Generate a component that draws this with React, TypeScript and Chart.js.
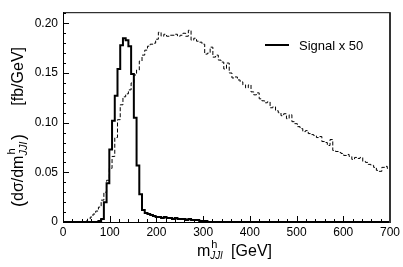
import React, { useEffect, useRef } from "react";
import { Chart, registerables } from "chart.js";

Chart.register(...registerables);

// ---------- data ----------
const X_MIN = 0;
const X_MAX = 700;
const BIN_COUNT = 120;
const xTickValues = [0, 100, 200, 300, 400, 500, 600, 700];
const yTickValues = [0, 0.05, 0.1, 0.15, 0.2];
const yTickLabels = ["0", "0.05", "0.10", "0.15", "0.20"];
const legendLabel = "Signal x 50";

// signal x 50, 120 bins of 700/120 GeV
const signalValues = [
  0, 0, 0, 0, 0, 0, 0, 0, 0, 0,
  0, 0, 0, 0.001, 0.003, 0.02, 0.039, 0.073, 0.102, 0.127,
  0.154, 0.178, 0.185, 0.183, 0.177, 0.149, 0.105, 0.057, 0.028, 0.012,
  0.009, 0.008, 0.007, 0.006, 0.005, 0.005, 0.004, 0.005, 0.004, 0.004,
  0.003, 0.004, 0.003, 0.003, 0.003, 0.002, 0.003, 0.002, 0.002, 0.002,
  0.001, 0.001, 0.001, 0, 0, 0, 0, 0, 0, 0,
  0, 0, 0, 0, 0, 0, 0, 0, 0, 0,
  0, 0, 0, 0, 0, 0, 0, 0, 0, 0,
  0, 0, 0, 0, 0, 0, 0, 0, 0, 0,
  0, 0, 0, 0, 0, 0, 0, 0, 0, 0,
  0, 0, 0, 0, 0, 0, 0, 0, 0, 0,
  0, 0, 0, 0, 0, 0, 0, 0, 0, 0,
];

// background (dashed), same binning
const backgroundValues = [
  0, 0, 0, 0, 0, 0, 0, 0.0005, 0.001, 0.003,
  0.005, 0.008, 0.011, 0.015, 0.022, 0.03, 0.042, 0.054, 0.066, 0.085,
  0.103, 0.118, 0.126, 0.129, 0.133, 0.14, 0.148, 0.153, 0.162, 0.168,
  0.173, 0.177, 0.179, 0.18, 0.184, 0.191, 0.187, 0.189, 0.187, 0.188,
  0.188, 0.189, 0.187, 0.188, 0.19, 0.187, 0.193, 0.183, 0.185, 0.182,
  0.181, 0.179, 0.169, 0.17, 0.176, 0.166, 0.168, 0.163, 0.161, 0.154,
  0.16, 0.15, 0.145, 0.146, 0.143, 0.141, 0.138, 0.135, 0.138, 0.131,
  0.128, 0.13, 0.124, 0.122, 0.12, 0.121, 0.115, 0.116, 0.112, 0.11,
  0.107, 0.109, 0.104, 0.108, 0.101, 0.099, 0.096, 0.094, 0.091, 0.092,
  0.089, 0.088, 0.087, 0.085, 0.086, 0.081, 0.08, 0.077, 0.083, 0.072,
  0.071, 0.07, 0.069, 0.067, 0.068, 0.066, 0.063, 0.065, 0.064, 0.065,
  0.061, 0.06, 0.058, 0.057, 0.055, 0.052, 0.051, 0.055, 0.056, 0.054,
];

// ---------- helpers ----------
const FONT = "'Liberation Sans', Arial, Helvetica, sans-serif";
const binWidth = (X_MAX - X_MIN) / BIN_COUNT;

function histPoints(values: number[]) {
  const pts = values.map((v, i) => ({ x: X_MIN + i * binWidth, y: v }));
  pts.push({ x: X_MAX, y: values[values.length - 1] });
  return pts;
}

function put(ctx: CanvasRenderingContext2D, text: string, font: string, x: number, y: number) {
  ctx.font = font;
  ctx.fillText(text, x, y);
  return x + ctx.measureText(text).width;
}

const decorPlugin = {
  id: "decor",
  afterDatasetsDraw(chart: any) {
    const { ctx, chartArea: a, scales } = chart;
    const xs = scales.x;
    const ys = scales.y;
    ctx.save();
    ctx.strokeStyle = "#000";
    ctx.fillStyle = "#000";
    ctx.lineWidth = 1;
    ctx.setLineDash([]);
    ctx.textBaseline = "alphabetic";
    ctx.textAlign = "left";

    // y ticks (inside): major every 0.05, minor every 0.01
    ctx.beginPath();
    for (let i = 0; i <= 21; i++) {
      const v = i * 0.01;
      const py = Math.round(ys.getPixelForValue(v)) + 0.5;
      if (py < a.top) continue;
      const len = i % 5 === 0 ? 6 : 3;
      ctx.moveTo(a.left, py);
      ctx.lineTo(a.left + len, py);
    }
    // x ticks (inside): major every 100, minor every 20
    for (let i = 0; i <= 35; i++) {
      const v = i * 20;
      const px = Math.round(xs.getPixelForValue(v)) + 0.5;
      const len = i % 5 === 0 ? 6 : 3;
      ctx.moveTo(px, a.bottom);
      ctx.lineTo(px, a.bottom - len);
    }
    ctx.stroke();

    // frame
    ctx.beginPath();
    ctx.lineWidth = 1;
    ctx.moveTo(a.left + 0.5, a.top);
    ctx.lineTo(a.left + 0.5, a.bottom + 0.5);
    ctx.lineTo(a.right, a.bottom + 0.5);
    ctx.moveTo(a.left, a.top + 0.5);
    ctx.lineTo(a.right, a.top + 0.5);
    ctx.stroke();
    ctx.beginPath();
    ctx.strokeStyle = "#333";
    ctx.lineWidth = 2;
    ctx.moveTo(a.right, a.top);
    ctx.lineTo(a.right, a.bottom + 1);
    ctx.stroke();

    // legend
    ctx.strokeStyle = "#000";
    ctx.lineWidth = 2;
    ctx.beginPath();
    ctx.moveTo(265, 45);
    ctx.lineTo(289, 45);
    ctx.stroke();
    put(ctx, legendLabel, `13px ${FONT}`, 299, 50);

    // x-axis title: m^h_{JJl}  [GeV]
    {
      const base = 256;
      const x = put(ctx, "m", `16px ${FONT}`, 197, base);
      put(ctx, "h", `11px ${FONT}`, x + 1, base - 8);
      put(ctx, "JJl", `italic 10px ${FONT}`, x, base + 3);
      ctx.textAlign = "right";
      put(ctx, "[GeV]", `16px ${FONT}`, 272, base);
      ctx.textAlign = "left";
    }

    // y-axis title (rotated)
    {
      ctx.save();
      ctx.translate(23, 207);
      ctx.rotate(-Math.PI / 2);
      let x = put(ctx, "(", `18px ${FONT}`, 0, 1);
      x = put(ctx, "d\u03c3/dm", `16px ${FONT}`, x, 0);
      put(ctx, "h", `11px ${FONT}`, x + 1, -8);
      ctx.font = `italic 11px ${FONT}`;
      const wSub = ctx.measureText("JJl").width;
      put(ctx, "JJl", `italic 11px ${FONT}`, x, 4);
      x += wSub + 2;
      put(ctx, ")", `18px ${FONT}`, x, 1);
      ctx.textAlign = "right";
      put(ctx, "[fb/GeV]", `16px ${FONT}`, 160, 0);
      ctx.restore();
    }
    ctx.restore();
  },
};

export default function App() {
  const canvasRef = useRef<HTMLCanvasElement | null>(null);

  useEffect(() => {
    const canvas = canvasRef.current;
    if (!canvas) return;
    const chart = new Chart(canvas, {
      type: "line",
      data: {
        datasets: [
          {
            label: "Background",
            data: histPoints(backgroundValues),
            stepped: "before",
            borderColor: "#000",
            borderWidth: 1,
            borderDash: [4, 2],
            pointRadius: 0,
            fill: false,
          },
          {
            label: legendLabel,
            data: histPoints(signalValues),
            stepped: "before",
            borderColor: "#000",
            borderWidth: 2,
            pointRadius: 0,
            fill: false,
          },
        ],
      },
      options: {
        responsive: false,
        animation: false,
        devicePixelRatio: 1,
        layout: { padding: { top: 5, right: 11, left: 0, bottom: 0 } },
        plugins: { legend: { display: false }, tooltip: { enabled: false } },
        scales: {
          x: {
            type: "linear",
            min: X_MIN,
            max: X_MAX,
            grid: { display: false, drawTicks: false },
            border: { display: false },
            afterBuildTicks: (s: any) => {
              s.ticks = xTickValues.map((v) => ({ value: v }));
            },
            afterFit: (s: any) => {
              s.height = 45;
            },
            ticks: {
              maxRotation: 0,
              autoSkip: false,
              padding: 3,
              color: "#000",
              font: { family: FONT, size: 12 },
              callback: (v: any) => String(v),
            },
          },
          y: {
            type: "linear",
            min: 0,
            max: 0.2112,
            grid: { display: false, drawTicks: false },
            border: { display: false },
            afterBuildTicks: (s: any) => {
              s.ticks = yTickValues.map((v) => ({ value: v }));
            },
            afterFit: (s: any) => {
              s.width = 63;
            },
            ticks: {
              autoSkip: false,
              padding: 5,
              color: "#000",
              font: { family: FONT, size: 12 },
              callback: (v: any) => {
                const i = yTickValues.findIndex((t) => Math.abs(t - v) < 1e-9);
                return i >= 0 ? yTickLabels[i] : "";
              },
            },
          },
        },
      },
      plugins: [decorPlugin],
    } as any);
    return () => chart.destroy();
  }, []);

  return (
    <div style={{ position: "absolute", left: 0, top: 0, width: 403, height: 267, background: "#fff" }}>
      <canvas ref={canvasRef} width={403} height={267} style={{ display: "block", width: 403, height: 267 }} />
    </div>
  );
}
